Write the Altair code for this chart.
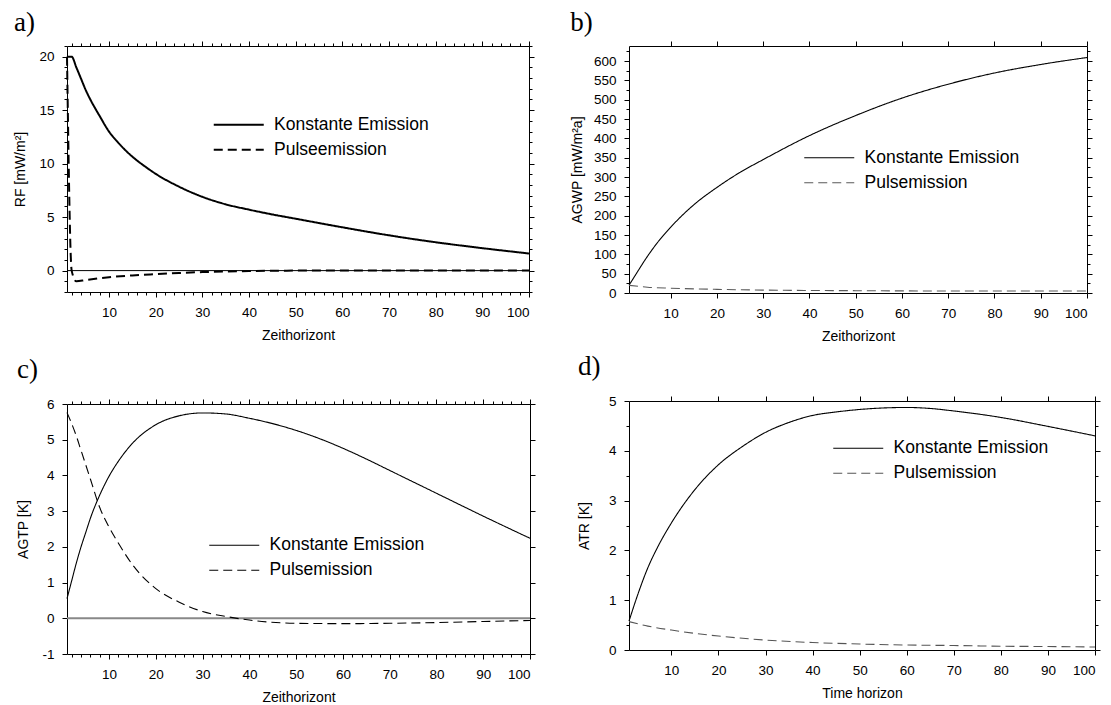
import altair as alt
import pandas as pd

LABEL_CONST = "Konstante Emission"
LABEL_PULSE_A = "Pulseemission"
LABEL_PULSE = "Pulsemission"

# ---- panel a) RF ----
a_const_x = [1, 2, 3, 4, 5, 6, 7, 8, 10, 12, 14, 16, 18, 20, 25, 30, 35, 40, 45, 50, 60, 70, 80, 90, 100]
a_const_y = [20, 20, 19.0, 17.95, 16.9, 16.0, 15.2, 14.45, 13.0, 11.95, 11.05, 10.3, 9.65, 9.05, 7.85,
             6.9, 6.2, 5.7, 5.25, 4.85, 4.05, 3.3, 2.65, 2.1, 1.6]
a_pulse_x = [1, 2, 3, 5, 10, 15, 20, 25, 30, 40, 50, 60, 70, 80, 90, 100]
a_pulse_y = [20, 0, -1.0, -0.88, -0.62, -0.45, -0.33, -0.22, -0.14, -0.04, 0, 0, 0, 0, 0, 0]

# ---- panel b) AGWP ----
b_const_x = [1, 2, 3, 4, 5, 7, 10, 15, 20, 25, 30, 40, 50, 60, 70, 80, 90, 100]
b_const_y = [20, 39, 58, 77, 95, 128, 170, 228, 273, 312, 345, 407, 459, 504, 540, 569, 591, 609]
b_pulse_x = [1, 5, 10, 20, 30, 40, 50, 60, 80, 100]
b_pulse_y = [20, 15, 12.5, 9.5, 7.5, 6.5, 6, 5.5, 5, 5]

# ---- panel c) AGTP ----
c_const_x = [1, 2, 3, 4, 5, 6, 8, 10, 12, 15, 20, 25, 30, 35, 40, 45, 50, 55, 60, 65, 70, 80, 90, 100]
c_const_y = [0.55, 1.05, 1.55, 2.0, 2.4, 2.8, 3.45, 3.98, 4.4, 4.9, 5.42, 5.67, 5.75, 5.72, 5.6, 5.45,
             5.26, 5.03, 4.76, 4.46, 4.14, 3.5, 2.86, 2.24]
c_pulse_x = [1, 2, 3, 4, 5, 6, 8, 10, 12, 15, 20, 25, 30, 35, 40, 50, 60, 70, 80, 90, 100]
c_pulse_y = [5.76, 5.45, 5.1, 4.7, 4.3, 3.9, 3.1, 2.55, 2.1, 1.5, 0.83, 0.45, 0.19, 0.05, -0.05, -0.14,
             -0.15, -0.14, -0.12, -0.09, -0.06]

# ---- panel d) ATR ----
d_const_x = [1, 3, 5, 7, 10, 15, 20, 25, 30, 35, 40, 45, 50, 55, 60, 65, 70, 80, 90, 100]
d_const_y = [0.58, 1.15, 1.65, 2.05, 2.55, 3.22, 3.72, 4.08, 4.37, 4.57, 4.71, 4.78, 4.83, 4.86, 4.87,
             4.85, 4.8, 4.67, 4.49, 4.3]
d_pulse_x = [1, 5, 10, 20, 30, 40, 50, 60, 70, 80, 90, 100]
d_pulse_y = [0.57, 0.48, 0.4, 0.28, 0.2, 0.15, 0.12, 0.1, 0.09, 0.075, 0.07, 0.06]

# tick positions
X_MAJOR = list(range(10, 101, 10))
X_MINOR2 = [v for v in range(2, 100, 2) if v % 10 != 0]
A_Y_MAJOR = [0, 5, 10, 15, 20]
A_Y_MINOR = [v for v in range(-2, 22) if v % 5 != 0]
B_Y_MAJOR = list(range(0, 601, 50))
B_Y_MINOR = list(range(25, 626, 50))
C_Y_MAJOR = list(range(-1, 7))
D_Y_MAJOR = [0, 1, 2, 3, 4, 5]
D_Y_MINOR = [0.5, 1.5, 2.5, 3.5, 4.5]

FONT = "Liberation Sans"


def ax(orient, values, size, labels=True, title=None, tp=10):
    return alt.Axis(orient=orient, values=values, tickSize=size, labels=labels, title=title,
                    domain=False, grid=False, ticks=True, tickColor="black", offset=0,
                    titlePadding=tp, labelExpr="replace(datum.label, '\u2212', '-')")


def panel(cx, cy, px, py, pulse_label, title, title_offset, ytitle, ytp, xtitle, ydomain, w, h,
          xb_major, xb_minor, xt_major, xt_minor, yl_major, yl_minor, yr_major, yr_minor,
          lx, ly, lw, pulse_color, zero_color=None, zero_width=1):
    df = pd.concat([
        pd.DataFrame({"t": cx, "v": cy, "s": LABEL_CONST}),
        pd.DataFrame({"t": px, "v": py, "s": pulse_label}),
    ])
    xs = alt.Scale(domain=[1, 100], nice=False, zero=False)
    ys = alt.Scale(domain=ydomain, nice=False, zero=False)
    dom = [LABEL_CONST, pulse_label]
    legend = alt.Legend(orient="none", legendX=lx, legendY=ly, title=None, padding=0,
                        symbolType="M-5,0H5", symbolSize=100, symbolStrokeWidth=lw,
                        labelFont=FONT, labelFontSize=17.5, labelColor="black",
                        labelOffset=26.5, rowPadding=6)
    base = alt.Chart(df)
    lines = base.mark_line(strokeWidth=lw, interpolate="monotone").encode(
        x=alt.X("t:Q", scale=xs, axis=ax("bottom", xb_major, 5, True, xtitle, 10)),
        y=alt.Y("v:Q", scale=ys, axis=ax("left", yl_major, 5, True, ytitle, ytp)),
        strokeDash=alt.StrokeDash("s:N", scale=alt.Scale(domain=dom, range=[[1, 0], [9, 5]]),
                                  legend=legend),
        color=alt.Color("s:N", scale=alt.Scale(domain=dom, range=["black", pulse_color]),
                        legend=legend),
    )
    g1 = base.mark_point(opacity=0, size=1).encode(
        x=alt.X("t:Q", scale=xs, axis=ax("bottom", xb_minor, 3, False)),
        y=alt.Y("v:Q", scale=ys, axis=ax("left", yl_minor, 3, False)),
    )
    g2 = base.mark_point(opacity=0, size=1).encode(
        x=alt.X("t:Q", scale=xs, axis=ax("top", xt_major, 5, False)),
        y=alt.Y("v:Q", scale=ys, axis=ax("right", yr_major, 5, False)),
    )
    g3 = base.mark_point(opacity=0, size=1).encode(
        x=alt.X("t:Q", scale=xs, axis=ax("top", xt_minor, 3, False)),
        y=alt.Y("v:Q", scale=ys, axis=ax("right", yr_minor, 3, False)),
    )
    layers = []
    if zero_color:
        zero = alt.Chart(pd.DataFrame({"z": [0]})).mark_rule(
            color=zero_color, strokeWidth=zero_width).encode(
            y=alt.Y("z:Q", scale=ys, axis=None))
        layers.append(zero)
    layers += [lines, g1, g2, g3]
    return alt.layer(*layers).resolve_axis(x="independent", y="independent").properties(
        width=w, height=h,
        title=alt.TitleParams(title, anchor="start", frame="bounds", font="Liberation Serif",
                              fontSize=27, fontWeight="normal", color="black",
                              offset=title_offset))


pa = panel(a_const_x, a_const_y, a_pulse_x, a_pulse_y, LABEL_PULSE_A, "a)", 4,
           "RF [mW/m²]", 11, "Zeithorizont", [-2, 21], 462, 246,
           X_MAJOR, X_MINOR2, X_MAJOR, X_MINOR2, A_Y_MAJOR, A_Y_MINOR, A_Y_MAJOR, A_Y_MINOR,
           163, 70, 2, "black", zero_color="black", zero_width=1)
pb = panel(b_const_x, b_const_y, b_pulse_x, b_pulse_y, LABEL_PULSE, "b)", 4,
           "AGWP [mW/m²a]", 9.2, "Zeithorizont", [0, 638.8], 458, 247,
           X_MAJOR, [], X_MAJOR, [], B_Y_MAJOR, B_Y_MINOR, B_Y_MAJOR, B_Y_MINOR,
           191.5, 103, 1.1, "#5a5a5a")
pc = panel(c_const_x, c_const_y, c_pulse_x, c_pulse_y, LABEL_PULSE, "c)", 13,
           "AGTP [K]", 11, "Zeithorizont", [-1, 6], 463, 250,
           X_MAJOR, X_MINOR2, X_MAJOR, X_MINOR2, C_Y_MAJOR, [], C_Y_MAJOR, [],
           158.5, 132.5, 1.1, "black", zero_color="#888888", zero_width=2)
pd_ = panel(d_const_x, d_const_y, d_pulse_x, d_pulse_y, LABEL_PULSE, "d)", 13,
            "ATR [K]", 16.5, "Time horizon", [0, 5], 466, 249,
            X_MAJOR, [], X_MAJOR, [], D_Y_MAJOR, D_Y_MINOR, D_Y_MAJOR, D_Y_MINOR,
            220.5, 38.5, 1.1, "#555555")

IND = dict(color="independent", strokeDash="independent")

col1 = alt.vconcat(pa, pc, spacing=12).resolve_scale(**IND).resolve_legend(**IND)
col2 = alt.vconcat(pb, pd_, spacing=8).resolve_scale(**IND).resolve_legend(**IND)

chart = alt.hconcat(col1, col2, spacing=33).resolve_scale(**IND).resolve_legend(**IND).properties(
    padding={"left": 5, "top": 0, "right": 0, "bottom": 0}, background="white"
).configure_view(stroke="black", strokeWidth=1).configure_axis(
    labelFont=FONT, labelFontSize=13.5, labelColor="black",
    titleFont=FONT, titleFontSize=14, titleFontWeight="normal", titleColor="black",
    tickColor="black", tickWidth=1, labelPadding=8, grid=False, domain=False,
)

chart.save("out.html", embed_options={"renderer": "svg", "actions": False})
